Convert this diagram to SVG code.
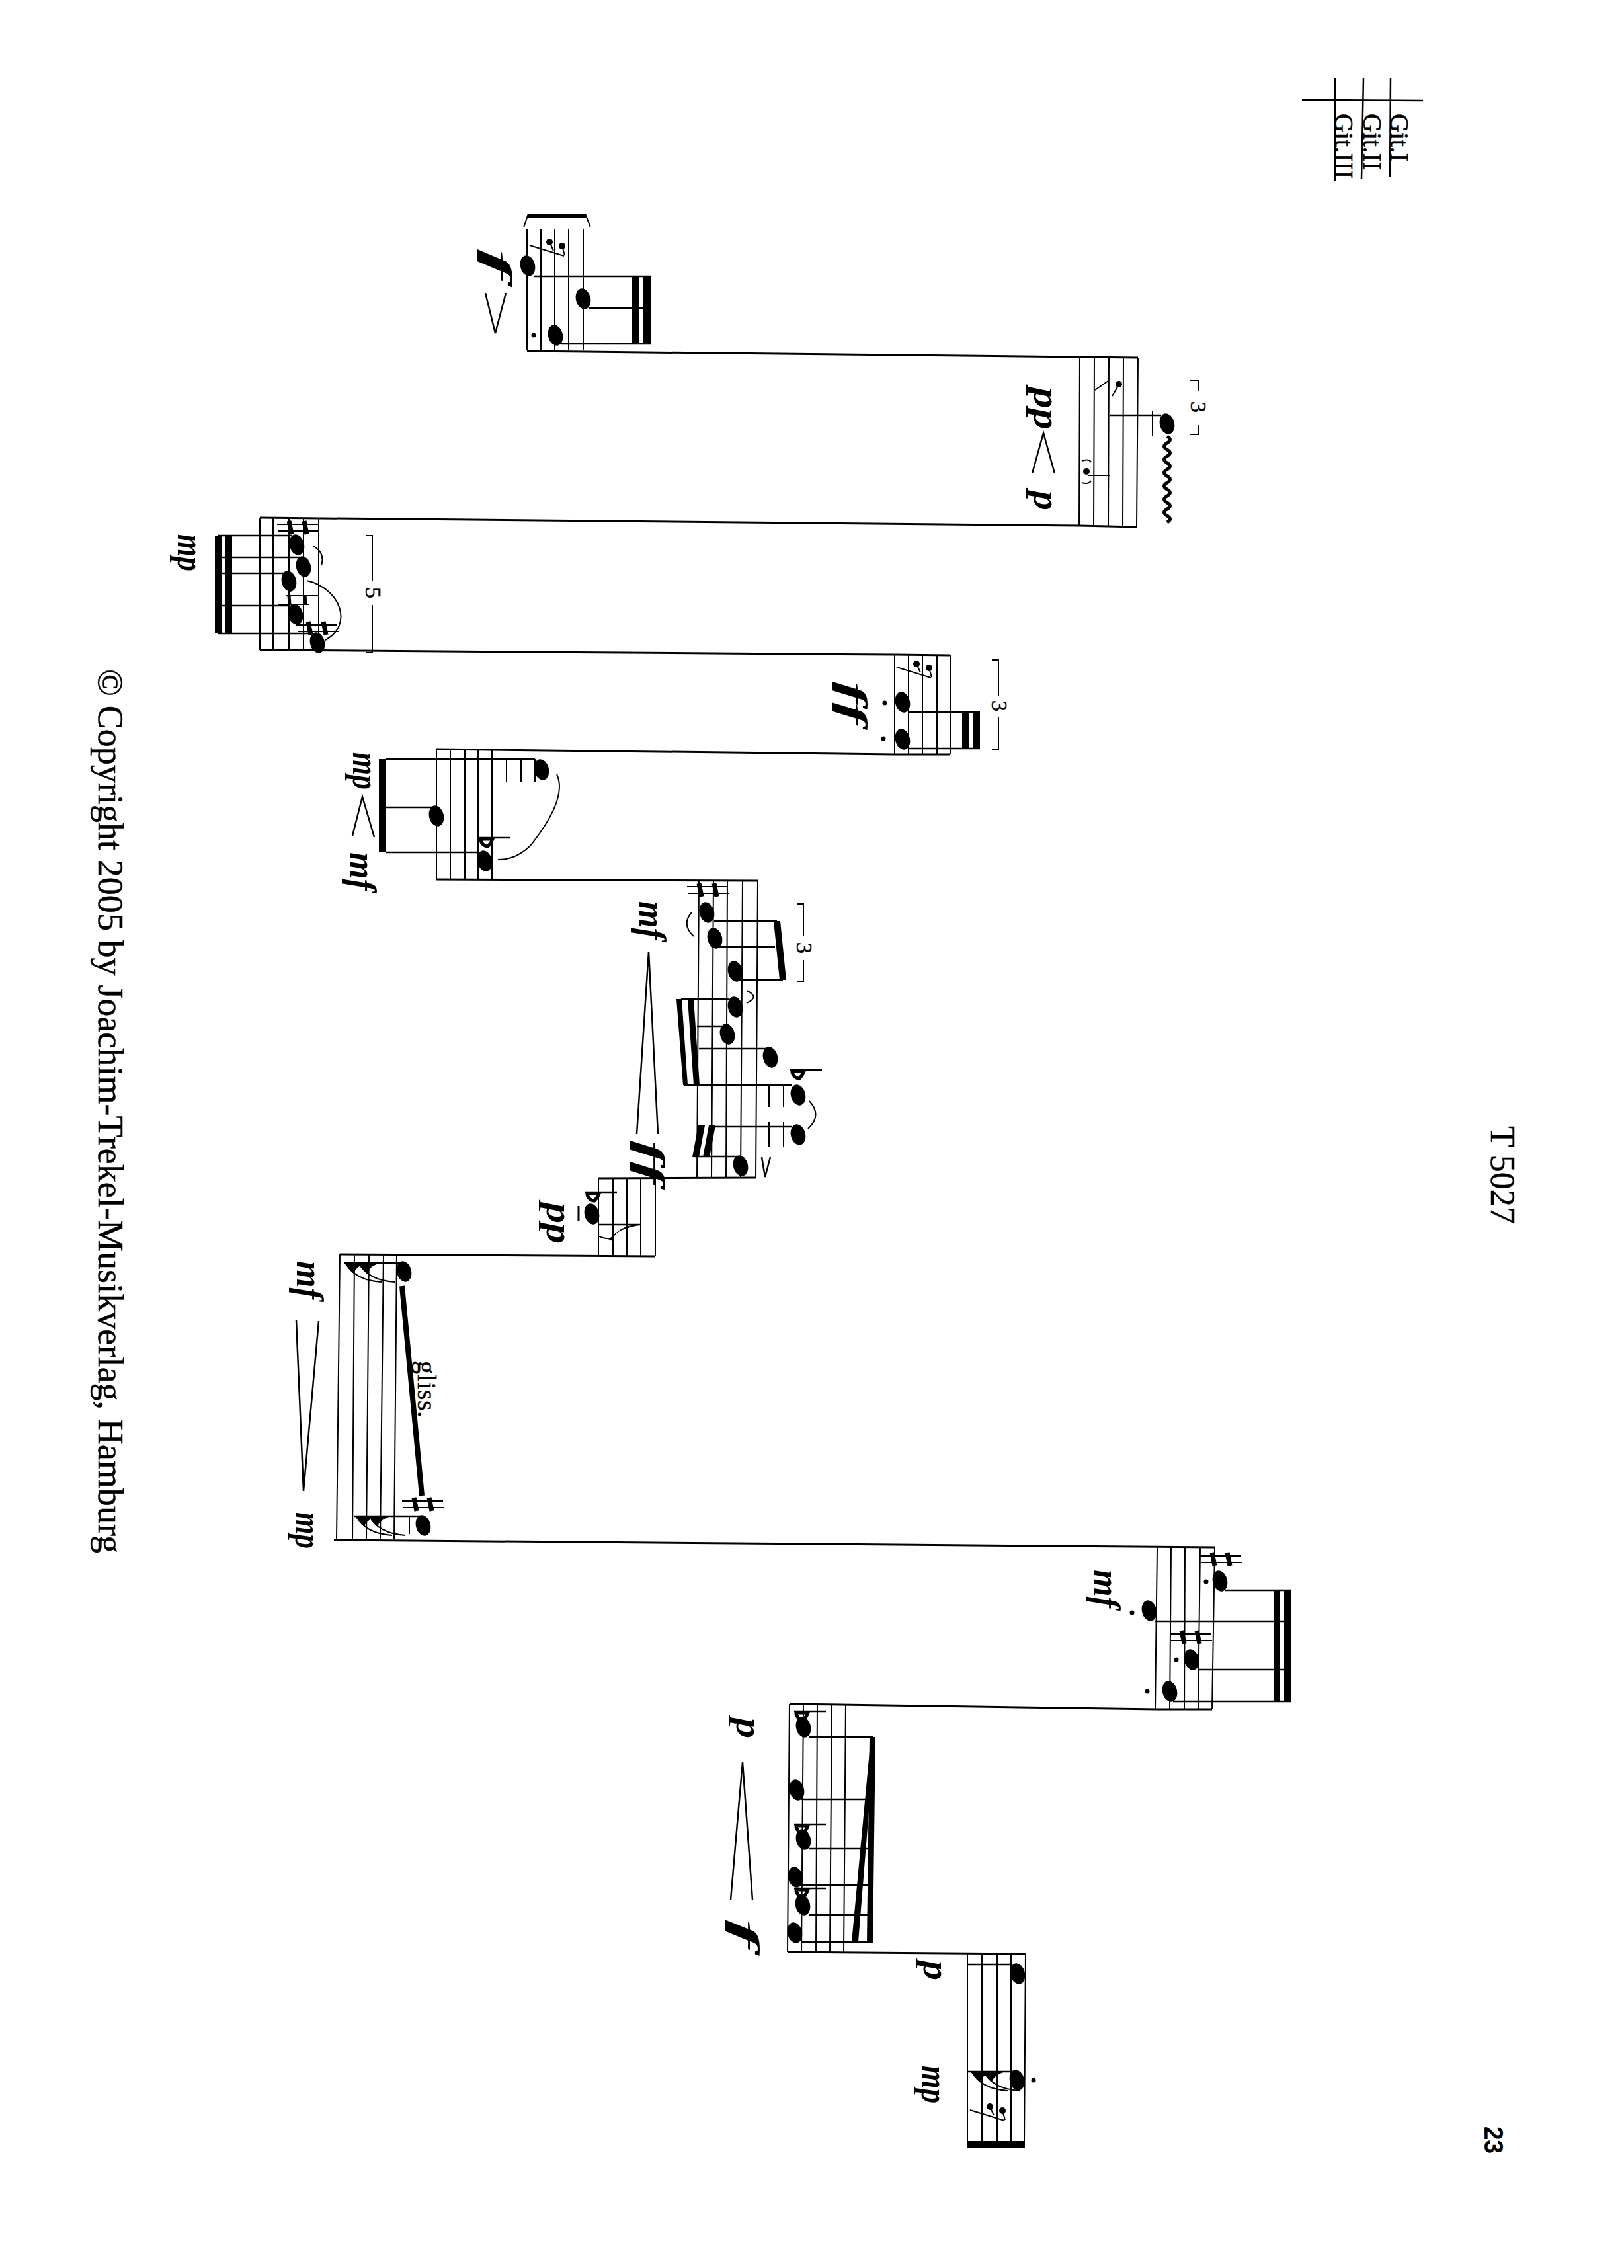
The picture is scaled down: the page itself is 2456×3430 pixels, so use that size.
<svg xmlns="http://www.w3.org/2000/svg" width="2456" height="3430" viewBox="0 0 2456 3430">
<style>
.s{fill:none;stroke:#000;stroke-width:2}
.c{fill:none;stroke:#000;stroke-width:3}
.t{fill:none;stroke:#000;stroke-width:2.5}
.b{fill:#000;stroke:none}
.dyn{font:italic bold 58px "Liberation Serif",serif;fill:#000}
.txt{font-family:"Liberation Serif",serif;fill:#000;stroke:#000;stroke-width:.5}
</style>
<defs>
<ellipse id="n" rx="11" ry="16" transform="rotate(-14)" fill="#000"/>
<circle id="d" r="3.5" fill="#000"/>
<g id="sharp"><path d="M-32 -5H30M-30 5H32" class="s"/><path d="M-14 -10L-10 10M9 -10L13 10" fill="none" stroke="#000" stroke-width="7"/></g>
<g id="flat"><path d="M0 0H48" class="t"/><path d="M3 2C3 8 8 13 14 13C18 9 20 5 21 2Z" fill="none" stroke="#000" stroke-width="5"/></g>
<g id="rest"><path d="M0 0L52 16" class="s"/><circle cx="30" cy="-5" r="5" fill="#000"/><circle cx="49" cy="1" r="5" fill="#000"/><path d="M30 -5L36 8M49 1L53 15" class="s"/></g>
<g id="flag"><path d="M0 0H34Q16 6 14 16Q5 8 0 0Z" fill="#000"/><path d="M2 0C10 16 28 27 56 29" class="s"/></g>
</defs>
<rect width="2456" height="3430" fill="#fff"/>

<g id="connectors">
<path class="c" d="M797 531L1633 540L1721 541"/>
<path class="c" d="M393 783L1632 795L1719 797"/>
<path class="c" d="M393 983L1353 990L1437 991"/>
<path class="c" d="M660 1133L1353 1141L1437 1141"/>
<path class="c" d="M659 1330L1146 1332"/>
<path class="c" d="M905 1782L1143 1781"/>
<path class="c" d="M514 1897L991 1900"/>
<path class="c" d="M505 2329L1837 2340"/>
<path class="c" d="M1194 2577L1750 2585L1833 2585"/>
<path class="c" d="M1191 2952L1551 2955"/>
</g>

<g id="staff1">
<path class="s" d="M797 346V530M818 346V530M839 346V530M860 346V530M882 346V530"/>
<polygon class="b" points="799,323 885,323 887,330 797,330"/>
<path class="s" d="M799 323L792 344M885 323L893 344"/>
<use href="#rest" x="801" y="371"/>
<use href="#n" transform="translate(798,402)"/>
<use href="#n" transform="translate(882,452)"/>
<use href="#n" transform="translate(840,507)"/>
<path class="t" d="M807 418H984M891 466H984M849 520H984"/>
<rect class="b" x="956" y="419" width="11" height="102"/>
<rect class="b" x="973" y="419" width="11" height="102"/>
<use href="#d" x="807" y="507"/>
<path class="t" d="M734 443L749 504L765 443"/>
<text class="dyn" transform="translate(734,377) rotate(90)" textLength="46" lengthAdjust="spacingAndGlyphs">f</text>
</g>

<g id="staff2">
<path class="s" d="M1633 540L1632 795M1655 540L1654 796M1677 540L1676 796M1699 540L1698 796M1721 541L1719 797"/>
<path class="s" d="M1656 590L1676 576M1682 599L1692 582"/>
<circle cx="1692" cy="581" r="5" fill="#000"/>
<path class="t" d="M1679 628H1756"/>
<path class="s" d="M1743 622V660"/>
<use href="#n" transform="translate(1765,641)"/>
<path fill="none" stroke="#000" stroke-width="5" d="M1765 660Q1774 665 1765 670T1765 680T1765 690T1765 700T1765 710T1765 720T1765 730T1765 740T1765 750T1765 760T1765 770T1765 780T1765 790"/>
<path class="s" d="M1800 575H1813V592M1813 642V657H1800"/>
<text class="txt" font-size="34" transform="translate(1801,607) rotate(90)">3</text>
<circle cx="1643" cy="713" r="5" fill="#000"/>
<path class="s" d="M1645 719H1679M1636 697Q1647 693 1650 699M1636 730Q1647 733 1650 727"/>
<text class="dyn" transform="translate(1564,586) rotate(90)" textLength="64" lengthAdjust="spacingAndGlyphs">pp</text>
<path class="t" d="M1561 716L1578 655L1595 716"/>
<text class="dyn" transform="translate(1564,742) rotate(90)" textLength="30" lengthAdjust="spacingAndGlyphs">p</text>
</g>

<g id="staff3">
<path class="s" d="M393 783V983M413 783V983M437 783V983M459 783V983M482 783V983"/>
<rect class="b" x="325" y="810" width="10" height="148"/>
<rect class="b" x="340" y="810" width="11" height="148"/>
<path class="t" d="M330 810H441M330 843H453M330 867H431M330 916H439M330 958H470"/>
<use href="#n" transform="translate(449,824)"/>
<use href="#n" transform="translate(459,857)"/>
<use href="#n" transform="translate(437,879)"/>
<use href="#n" transform="translate(447,929)"/>
<use href="#n" transform="translate(480,972)"/>
<use href="#sharp" x="451" y="798"/>
<use href="#sharp" x="480" y="950"/>
<path class="s" d="M432 901H482M420 914H467"/>
<path d="M437 901L438 914M461 901L462 914" fill="none" stroke="#000" stroke-width="5"/>
<path class="s" d="M474 826Q492 836 486 855M464 878C515 890 535 945 492 968"/>
<path class="s" d="M553 810H563V879M563 915V987H553"/>
<text class="txt" font-size="34" transform="translate(553,888) rotate(90)">5</text>
<text class="dyn" transform="translate(269,808) rotate(90)" textLength="56" lengthAdjust="spacingAndGlyphs">mp</text>
</g>

<g id="staff4">
<path class="s" d="M1353 991V1141M1374 991V1141M1395 991V1141M1417 991V1141M1437 991V1141"/>
<use href="#rest" x="1356" y="1009"/>
<use href="#n" transform="translate(1365,1062)"/>
<use href="#n" transform="translate(1365,1118)"/>
<path class="t" d="M1374 1077H1482M1374 1132H1482"/>
<rect class="b" x="1455" y="1078" width="10" height="54"/>
<rect class="b" x="1472" y="1078" width="10" height="54"/>
<use href="#d" x="1338" y="1063"/>
<use href="#d" x="1336" y="1117"/>
<text class="dyn" transform="translate(1271,1031) rotate(90)" textLength="65" lengthAdjust="spacingAndGlyphs">ff</text>
<path class="s" d="M1500 998H1510V1052M1510 1085V1133H1500"/>
<text class="txt" font-size="34" transform="translate(1500,1059) rotate(90)">3</text>
</g>

<g id="staff5">
<path class="s" d="M660 1133V1330M681 1133V1330M703 1133V1330M723 1133V1330M744 1133V1330"/>
<rect class="b" x="573" y="1148" width="10" height="141"/>
<path class="t" d="M583 1148H809M583 1221H655M583 1289H724"/>
<use href="#n" transform="translate(819,1164)"/>
<use href="#n" transform="translate(660,1234)"/>
<use href="#n" transform="translate(733,1302)"/>
<path class="s" d="M766 1148V1182M788 1148V1182M809 1148V1182"/>
<use href="#flat" x="724" y="1267"/>
<path class="s" d="M842 1171C852 1192 845 1225 802 1279C785 1295 770 1300 753 1300"/>
<text class="dyn" transform="translate(534,1138) rotate(90)" textLength="56" lengthAdjust="spacingAndGlyphs">mp</text>
<path class="t" d="M533 1264L548 1205L566 1266"/>
<text class="dyn" transform="translate(529,1289) rotate(90)" textLength="58" lengthAdjust="spacingAndGlyphs">mf</text>
</g>

<g id="staff6">
<path class="s" d="M1057 1332L1054 1781M1079 1332L1076 1781M1100 1332L1098 1781M1123 1332L1120 1781M1146 1332L1143 1781"/>
<use href="#sharp" x="1071" y="1346"/>
<use href="#n" transform="translate(1069,1380)"/>
<use href="#n" transform="translate(1081,1419)"/>
<use href="#n" transform="translate(1112,1469)"/>
<use href="#n" transform="translate(1112,1523)"/>
<use href="#n" transform="translate(1100,1564)"/>
<use href="#n" transform="translate(1165,1599)"/>
<use href="#n" transform="translate(1207,1656)"/>
<use href="#n" transform="translate(1207,1716)"/>
<use href="#n" transform="translate(1120,1763)"/>
<path class="t" d="M1080 1393H1175M1086 1432H1172M1118 1482H1184"/>
<polygon class="b" points="1170,1393 1180,1393 1189,1482 1179,1482"/>
<path class="s" d="M1205 1367H1215V1416M1215 1452V1484H1205"/>
<text class="txt" font-size="34" transform="translate(1205,1425) rotate(90)">3</text>
<polygon class="b" points="1023,1511 1031,1511 1040,1641 1033,1641"/>
<polygon class="b" points="1040,1511 1049,1511 1058,1641 1049,1641"/>
<path class="t" d="M1030 1511H1103M1054 1552H1092M1057 1586H1158M1034 1641H1198"/>
<path class="s" d="M1163 1641V1674M1185 1641V1674M1163 1697V1735M1185 1697V1735"/>
<use href="#flat" x="1195" y="1618"/>
<path class="s" d="M1129 1498Q1150 1508 1129 1517M1046 1380Q1030 1398 1049 1416M1224 1665Q1244 1687 1222 1707"/>
<polygon class="b" points="1056,1702 1066,1702 1057,1750 1047,1750"/>
<polygon class="b" points="1072,1702 1082,1702 1073,1750 1063,1750"/>
<path class="t" d="M1082 1704H1198M1049 1749H1115"/>
<path class="t" d="M1152 1750L1157 1780L1165 1750"/>
<text class="dyn" transform="translate(967,1363) rotate(90)" textLength="58" lengthAdjust="spacingAndGlyphs">mf</text>
<path class="t" d="M963 1715L981 1439L995 1715"/>
<text class="dyn" transform="translate(965,1725) rotate(90)" textLength="66" lengthAdjust="spacingAndGlyphs">ff</text>
</g>

<g id="staff7">
<path class="s" d="M905 1782V1899M927 1782V1899M948 1782V1899M969 1782V1900M991 1782V1900"/>
<use href="#n" transform="translate(895,1836)"/>
<path d="M875 1824V1847" fill="none" stroke="#000" stroke-width="3"/>
<use href="#flat" x="885" y="1803"/>
<path class="t" d="M905 1852H968"/>
<path d="M968 1852C945 1853 930 1862 925 1876C918 1872 910 1871 905 1870C915 1874 922 1876 928 1868C935 1860 950 1856 968 1852Z" fill="#000" stroke="#000"/>
<text class="dyn" transform="translate(827,1819) rotate(90)" textLength="62" lengthAdjust="spacingAndGlyphs">pp</text>
</g>

<g id="staff8">
<path class="s" d="M514 1897L509 2328M536 1897L533 2328M558 1897L554 2328M580 1897L575 2328M600 1897L596 2328"/>
<path class="t" d="M520 1910H610M536 2293H637"/>
<use href="#flag" x="521" y="1910"/>
<use href="#flag" x="541" y="1910"/>
<use href="#flag" x="537" y="2293"/>
<use href="#flag" x="557" y="2293"/>
<path class="s" d="M619 2293V2320"/>
<use href="#n" transform="translate(611,1923)"/>
<use href="#n" transform="translate(640,2307)"/>
<path d="M608 1945L638 2262" fill="none" stroke="#000" stroke-width="8"/>
<text class="txt" font-size="40" textLength="86" transform="translate(632,2058) rotate(90)">gliss.</text>
<use href="#sharp" x="640" y="2275"/>
<text class="dyn" transform="translate(449,1907) rotate(90)" textLength="58" lengthAdjust="spacingAndGlyphs">mf</text>
<path class="t" d="M448 1997L459 2255L482 1998"/>
<text class="dyn" transform="translate(447,2287) rotate(90)" textLength="55" lengthAdjust="spacingAndGlyphs">mp</text>
</g>

<g id="staff9">
<path class="s" d="M1750 2340L1747 2585M1771 2340L1769 2585M1792 2340L1791 2585M1815 2340L1812 2585M1837 2340L1833 2585"/>
<use href="#sharp" x="1847" y="2358"/>
<use href="#sharp" x="1801" y="2476"/>
<use href="#n" transform="translate(1845,2391)"/>
<use href="#n" transform="translate(1738,2436)"/>
<use href="#n" transform="translate(1802,2510)"/>
<use href="#n" transform="translate(1769,2558)"/>
<path class="t" d="M1853 2405H1952M1747 2452H1952M1811 2525H1952M1774 2573H1952"/>
<rect class="b" x="1926" y="2405" width="10" height="169"/>
<rect class="b" x="1942" y="2405" width="10" height="169"/>
<use href="#d" x="1824" y="2392"/>
<use href="#d" x="1712" y="2439"/>
<use href="#d" x="1779" y="2510"/>
<use href="#d" x="1735" y="2558"/>
<text class="dyn" transform="translate(1654,2374) rotate(90)" textLength="58" lengthAdjust="spacingAndGlyphs">mf</text>
</g>

<g id="staff10">
<path class="s" d="M1194 2577L1191 2952M1215 2577L1212 2952M1236 2577L1234 2952M1258 2577L1255 2952M1279 2577L1276 2952"/>
<use href="#n" transform="translate(1215,2612)"/>
<use href="#n" transform="translate(1205,2707)"/>
<use href="#n" transform="translate(1215,2782)"/>
<use href="#n" transform="translate(1203,2839)"/>
<use href="#n" transform="translate(1214,2881)"/>
<use href="#n" transform="translate(1202,2923)"/>
<path class="t" d="M1223 2627H1320M1212 2721H1320M1223 2796H1320M1212 2851H1320M1223 2896H1320M1212 2937H1320"/>
<polygon class="b" points="1315,2627 1324,2627 1320,2937 1311,2937"/>
<polygon class="b" points="1317,2628 1323,2628 1298,2937 1288,2937"/>
<use href="#flat" x="1201" y="2588"/>
<use href="#flat" x="1201" y="2759"/>
<use href="#flat" x="1201" y="2856"/>
<text class="dyn" transform="translate(1114,2598) rotate(90)" textLength="31" lengthAdjust="spacingAndGlyphs">p</text>
<path class="t" d="M1105 2873L1123 2665L1138 2873"/>
<text class="dyn" transform="translate(1108,2903) rotate(90)" textLength="44" lengthAdjust="spacingAndGlyphs">f</text>
</g>

<g id="staff11">
<path class="s" d="M1463 2955V3241M1485 2955V3241M1508 2955V3241M1529 2955V3241M1551 2955L1549 3241"/>
<rect class="b" x="1462" y="3238" width="88" height="10"/>
<path class="t" d="M1463 2971H1529M1463 3133H1529"/>
<use href="#n" transform="translate(1539,2985)"/>
<use href="#n" transform="translate(1538,3146)"/>
<use href="#flag" x="1468" y="3133"/>
<use href="#flag" x="1486" y="3133"/>
<use href="#d" x="1563" y="3146"/>
<use href="#rest" x="1467" y="3191"/>
<text class="dyn" transform="translate(1397,2965) rotate(90)" textLength="30" lengthAdjust="spacingAndGlyphs">p</text>
<text class="dyn" transform="translate(1394,3124) rotate(90)" textLength="57" lengthAdjust="spacingAndGlyphs">mp</text>
</g>

<g id="instruments">
<path class="t" d="M1969 151L2152 152M2019 118V273M2062 118L2059 270M2103 118L2102 268"/>
<text class="txt" font-size="39" transform="translate(2019,172) rotate(90)">Git.III</text>
<text class="txt" font-size="39" transform="translate(2062,172) rotate(90)">Git.II</text>
<text class="txt" font-size="39" transform="translate(2103,172) rotate(90)">Git.I</text>
</g>

<g id="page">
<text class="txt" font-size="52" transform="translate(2255,1703) rotate(90)">T 5027</text>
<text font-family="Liberation Sans,sans-serif" font-weight="bold" font-size="40" fill="#000" textLength="41" lengthAdjust="spacingAndGlyphs" transform="translate(2245,3216) rotate(90)">23</text>
<text class="txt" font-size="54" textLength="1337" transform="translate(149,1012) rotate(90)">© Copyright 2005 by Joachim-Trekel-Musikverlag, Hamburg</text>
</g>
</svg>
